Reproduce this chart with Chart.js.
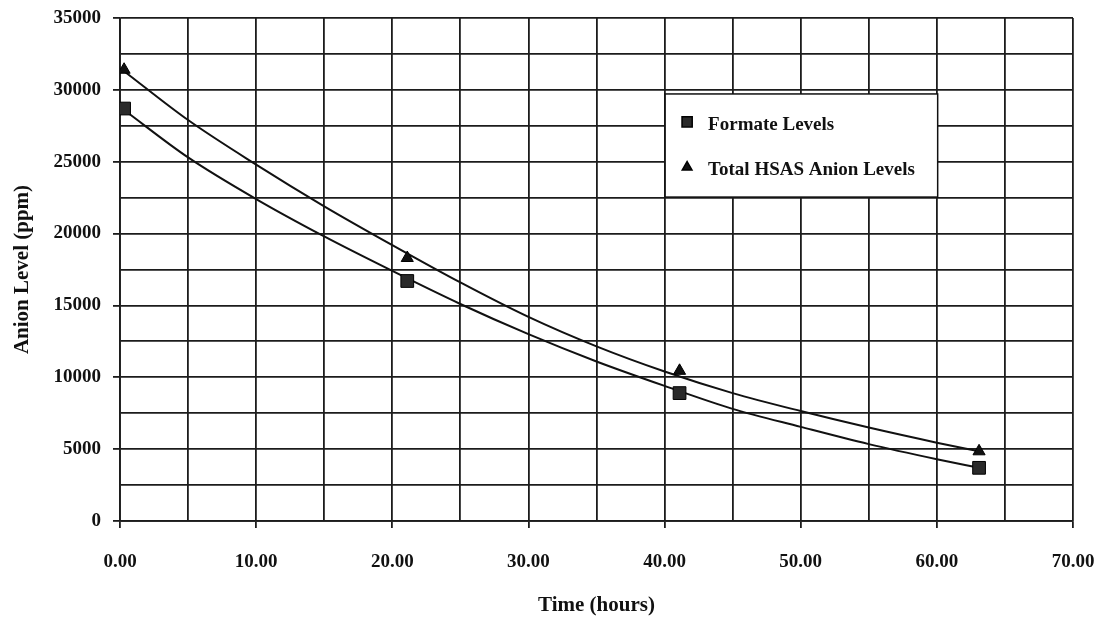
<!DOCTYPE html>
<html>
<head>
<meta charset="utf-8">
<title>Anion Level vs Time</title>
<script src="https://cdn.jsdelivr.net/npm/chart.js@4.4.1/dist/chart.umd.min.js"></script>
<style>
  html, body { margin: 0; padding: 0; background: #fff; }
  #wrap { width: 1099px; height: 620px; }
</style>
</head>
<body>
<div id="wrap"><canvas id="myChart" width="1099" height="620"></canvas></div>
<script>
const hours = [0.3, 21.1, 41.1, 63.1];
const formateLevels = [28700, 16700, 8900, 3700];
const totalAnionLevels = [31400, 18300, 10450, 4850];

// trend curves
const fitHours = [0.3, 5, 10, 15, 20, 25, 30, 35, 40, 45, 50, 55, 60, 63.1];
const formateFit = [28600, 25300, 22400, 19800, 17400, 15100, 13000, 11100, 9400, 7800, 6550, 5350, 4300, 3700];
const totalFit = [31300, 27900, 24800, 21900, 19200, 16600, 14200, 12150, 10400, 8900, 7650, 6500, 5450, 4850];

const seriesNames = ['Formate Levels', 'Total HSAS Anion Levels'];

const ink = '#111';
const gridInk = '#1c1c1c';
const serif = '"Liberation Serif", "Times New Roman", serif';

const toPoints = (xs, ys) => xs.map((x, i) => ({ x: x, y: ys[i] }));

const legendBox = {
  id: 'legendBox',
  afterDraw(chart) {
    const { ctx, chartArea: ca } = chart;
    const w = ca.right - ca.left;
    const h = ca.bottom - ca.top;
    const left = ca.left + w * 0.572;
    const top = ca.top + h * 0.151;
    const bw = w * 0.286;
    const bh = h * 0.205;

    ctx.save();
    ctx.fillStyle = '#fff';
    ctx.fillRect(left, top, bw, bh);
    ctx.strokeStyle = ink;
    ctx.lineWidth = 1.5;
    ctx.strokeRect(left, top, bw, bh);

    const items = chart.data.datasets.filter(d => d.label);
    items.forEach((d, i) => {
      const y = top + bh * (0.27 + i * 0.44);
      ctx.fillStyle = d.backgroundColor;
      ctx.strokeStyle = d.borderColor;
      Chart.helpers.drawPoint(ctx, {
        pointStyle: d.pointStyle,
        radius: d.pointRadius * 0.8,
        rotation: 0,
        borderWidth: 1,
      }, left + 22, y);
      ctx.fillStyle = ink;
      ctx.font = 'bold 19px ' + serif;
      ctx.textBaseline = 'middle';
      ctx.textAlign = 'left';
      ctx.fillText(d.label, left + 43, y + 3);
    });
    ctx.restore();
  },
};

const config = {
  type: 'scatter',
  data: {
    datasets: [
      {
        label: seriesNames[0],
        data: toPoints(hours, formateLevels),
        pointStyle: 'rect',
        pointRadius: 9,
        backgroundColor: '#2a2a2a',
        borderColor: '#000',
        borderWidth: 1,
        showLine: false,
      },
      {
        label: seriesNames[1],
        data: toPoints(hours, totalAnionLevels),
        pointStyle: 'triangle',
        pointRadius: 7,
        backgroundColor: '#111',
        borderColor: '#000',
        borderWidth: 1,
        showLine: false,
      },
      {
        data: toPoints(fitHours, formateFit),
        showLine: true,
        pointRadius: 0,
        borderColor: '#111',
        borderWidth: 2,
        cubicInterpolationMode: 'monotone',
      },
      {
        data: toPoints(fitHours, totalFit),
        showLine: true,
        pointRadius: 0,
        borderColor: '#111',
        borderWidth: 2,
        cubicInterpolationMode: 'monotone',
      },
    ],
  },
  options: {
    responsive: false,
    animation: false,
    layout: {
      padding: { top: 18, right: 26, left: 0, bottom: 0 },
    },
    plugins: {
      legend: { display: false },
      tooltip: { enabled: false },
    },
    scales: {
      x: {
        type: 'linear',
        min: 0,
        max: 70,
        afterFit: scale => {
          scale.height = 99;
          scale.paddingLeft = 0;
          scale.paddingRight = 0;
        },
        ticks: {
          stepSize: 5,
          autoSkip: false,
          maxRotation: 0,
          padding: 23,
          color: ink,
          font: { family: serif, size: 19, weight: 'bold' },
          callback: v => (v % 10 === 0 ? v.toFixed(2) : ''),
        },
        grid: {
          color: gridInk,
          lineWidth: 1.8,
          tickLength: 7,
          tickColor: c => (c.tick && c.tick.value % 10 === 0 ? gridInk : 'rgba(0,0,0,0)'),
        },
        border: { color: gridInk, width: 1.8 },
        title: {
          display: true,
          text: 'Time (hours)',
          color: ink,
          font: { family: serif, size: 21, weight: 'bold' },
          padding: { top: 0, bottom: 2 },
        },
      },
      y: {
        type: 'linear',
        min: 0,
        max: 35000,
        afterFit: scale => {
          scale.width = 120;
          scale.paddingTop = 0;
          scale.paddingBottom = 0;
        },
        ticks: {
          stepSize: 2500,
          autoSkip: false,
          padding: 12,
          color: ink,
          font: { family: serif, size: 19, weight: 'bold' },
          callback: v => (v % 5000 === 0 ? String(v) : ''),
        },
        grid: {
          color: gridInk,
          lineWidth: 1.8,
          tickLength: 7,
          tickColor: c => (c.tick && c.tick.value % 5000 === 0 ? gridInk : 'rgba(0,0,0,0)'),
        },
        border: { color: gridInk, width: 1.8 },
        title: {
          display: true,
          text: 'Anion Level (ppm)',
          color: ink,
          font: { family: serif, size: 21, weight: 'bold' },
          padding: { top: 10, bottom: 0 },
        },
      },
    },
  },
  plugins: [legendBox],
};

const chart = new Chart(document.getElementById('myChart'), config);
</script>
</body>
</html>
